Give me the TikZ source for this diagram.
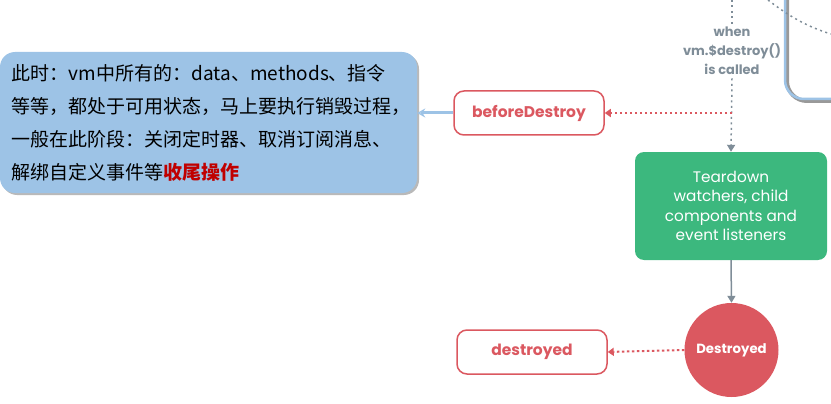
\documentclass[tikz,border=0pt]{standalone}
\usepackage{fontspec}
\setmainfont{Poppins}
\newfontfamily\cjk{Noto Sans CJK SC}
\usetikzlibrary{positioning, arrows.meta, shadows}
\definecolor{vuegreen}{RGB}{60, 184, 126}
\definecolor{vuered}{RGB}{219, 88, 96}
\definecolor{vuegray}{RGB}{127, 141, 152}
\definecolor{noteblue}{RGB}{157, 195, 230}
\definecolor{notered}{RGB}{192, 0, 0}

\begin{document}
\begin{tikzpicture}[
    x=1pt, y=-1pt,
    hook/.style={
        rectangle, draw=vuered, line width=1.5pt, fill=white, rounded corners=10pt,
        minimum width=150pt, minimum height=44pt,
        align=center, text=vuered, font=\fontsize{15.5}{18}\selectfont\bfseries
    },
    stage/.style={
        rectangle, fill=vuegreen, rounded corners=9pt,
        minimum width=192pt, minimum height=108pt,
        align=center, text=white, font=\fontsize{15.3}{19.5}\selectfont
    },
    state/.style={
        circle, fill=vuered, minimum size=94pt, inner sep=0pt,
        text=white, font=\fontsize{13.3}{15}\selectfont\bfseries
    },
    note/.style={
        rectangle, fill=noteblue, rounded corners=15pt,
        minimum width=417pt, minimum height=141pt,
        text width=393pt, inner xsep=12pt, align=left,
        font=\cjk\fontsize{19}{33}\selectfont,
        drop shadow={shadow xshift=2pt, shadow yshift=-2pt, opacity=0.55, fill=gray}
    },
    cond/.style={
        align=center, text=vuegray, font=\fontsize{13}{19}\selectfont\bfseries
    },
    garr/.style={-{Triangle[length=7pt, width=8pt]}, line width=1.5pt, vuegray},
    gdot/.style={line width=1.5pt, vuegray, dash pattern=on 2pt off 3.5pt},
    rdarr/.style={-{Triangle[length=6pt, width=8pt]}, line width=2pt, vuered,
        dash pattern=on 2.5pt off 2.5pt},
    barr/.style={-{Stealth[length=8pt, width=9pt, open]}, line width=3pt, noteblue},
]
\useasboundingbox (0,0) rectangle (831,404);

% Mounted frame (cut off at the top right)
\draw[gray!80, line width=4pt, rounded corners=20pt]
    (787,0) -- (787,101) -- (835,101);
\draw[noteblue, line width=2.5pt, rounded corners=19pt]
    (785,0) -- (785,99) -- (835,99);
\draw[gdot] (768,0) .. controls (790,17) and (808,27) .. (831,34);

% Nodes
\node[cond] (when) at (732,51) {when\\vm.\$destroy()\\is called};
\node[stage] (teardown) at (731,206)
    {Teardown\\watchers, child\\components and\\event listeners};
\node[state] (dead) at (731.5,350) {Destroyed};
\node[hook] (before) at (529,113) {beforeDestroy};
\node[hook] (after) at (532,352) {destroyed};
\node[note] (memo) at (208.5,122.5)
    {此时：vm中所有的：data、methods、指令\\
     等等，都处于可用状态，马上要执行销毁过程，\\
     一般在此阶段：关闭定时器、取消订阅消息、\\
     解绑自定义事件等{\bfseries\color{notered}收尾操作}};
\coordinate (top) at (732,0);
\coordinate (tap) at (732,113);

% Connectors
\draw[gdot] (top) -- (when.north);
\draw[gdot, -{Triangle[length=7pt, width=8pt]}] (when.south) -- (teardown.north);
\draw[garr] (teardown.south) -- (dead.north);
\draw[rdarr] (tap) -- (before.east);
\draw[rdarr] (dead.west) -- (after.east);
\draw[barr] (before.west) -- (before.west -| memo.east);

\end{tikzpicture}
\end{document}
